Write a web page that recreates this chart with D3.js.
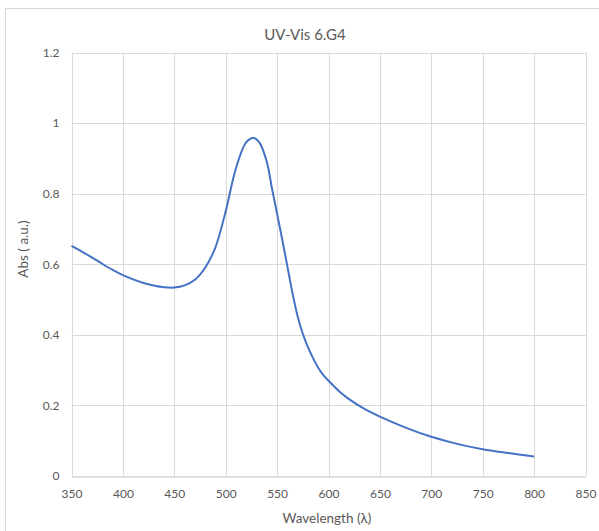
<!DOCTYPE html>
<html>
<head>
<meta charset="utf-8">
<script src="https://cdn.jsdelivr.net/npm/d3@7"></script>
<style>
  body { margin: 0; background: #fff; }
  text { font-family: Lato, "Open Sans", sans-serif; fill: #595959; }
</style>
</head>
<body>
<div id="chart-area"></div>
<script>
// wavelength (nm) and absorbance
const wavelength = [350, 360, 370, 380, 390, 400, 410, 420, 430, 440, 450, 460, 470, 480, 490,
  500, 510, 520, 527, 533, 540, 545, 550, 555, 560, 565, 570, 575, 580, 585, 590, 595, 600,
  610, 620, 635, 650, 675, 700, 725, 750, 775, 800]
const absorbance = [0.652, 0.636, 0.619, 0.601, 0.584, 0.569, 0.557, 0.547, 0.540, 0.535, 0.534,
  0.540, 0.556, 0.590, 0.648, 0.750, 0.872, 0.946, 0.958, 0.944, 0.890, 0.815, 0.743, 0.670,
  0.594, 0.518, 0.452, 0.403, 0.365, 0.334, 0.307, 0.286, 0.270, 0.241, 0.218, 0.190, 0.168,
  0.137, 0.111, 0.091, 0.076, 0.065, 0.055]
const xTicks = [350, 400, 450, 500, 550, 600, 650, 700, 750, 800, 850]
const yTicks = [0, 0.2, 0.4, 0.6, 0.8, 1, 1.2]

const W = 599, H = 531
const PLOT = { LEFT: 71.5, RIGHT: 585.5, TOP: 52.5, BOTTOM: 476 }

const svg = d3.select("#chart-area").append("svg")
  .attr("width", W)
  .attr("height", H)

// chart frame
svg.append("rect")
  .attr("x", 5.5).attr("y", 8.5)
  .attr("width", 700).attr("height", 600)
  .attr("fill", "none")
  .attr("stroke", "#d9d9d9")

const x = d3.scaleLinear().domain([350, 850]).range([PLOT.LEFT, PLOT.RIGHT])
const y = d3.scaleLinear().domain([0, 1.2]).range([PLOT.BOTTOM, PLOT.TOP])

// grid
svg.append("g").selectAll("line").data(yTicks.filter(d => d > 0)).join("line")
  .attr("x1", PLOT.LEFT).attr("x2", PLOT.RIGHT)
  .attr("y1", d => Math.round(y(d)) + 0.5).attr("y2", d => Math.round(y(d)) + 0.5)
  .attr("stroke", "#d9d9d9")

svg.append("g").selectAll("line").data(xTicks).join("line")
  .attr("y1", PLOT.TOP).attr("y2", PLOT.BOTTOM)
  .attr("x1", d => Math.round(x(d)) + 0.5).attr("x2", d => Math.round(x(d)) + 0.5)
  .attr("stroke", "#d9d9d9")

// x axis
const xAxisCall = d3.axisBottom(x).tickValues(xTicks).tickSize(0).tickPadding(13)
const xAxisGroup = svg.append("g")
  .attr("transform", `translate(0, ${Math.round(PLOT.BOTTOM) + 0.5})`)
  .call(xAxisCall)
xAxisGroup.select(".domain").attr("stroke", "#bfbfbf")
xAxisGroup.selectAll("text").attr("font-size", "12px").attr("fill", "#595959")
  .style("font-family", "Lato, 'Open Sans', sans-serif")

// y axis
const yAxisCall = d3.axisLeft(y).tickValues(yTicks).tickSize(0).tickPadding(12)
  .tickFormat(d => d)
const yAxisGroup = svg.append("g")
  .attr("transform", `translate(${PLOT.LEFT}, 0)`)
  .call(yAxisCall)
yAxisGroup.select(".domain").remove()
yAxisGroup.selectAll("text").attr("font-size", "12px").attr("fill", "#595959")
  .style("font-family", "Lato, 'Open Sans', sans-serif")

// line
const line = d3.line()
  .x(d => x(d[0]))
  .y(d => y(d[1]))
  .curve(d3.curveCatmullRom.alpha(0.5))

svg.append("path")
  .datum(wavelength.map((w, i) => [w, absorbance[i]]))
  .attr("d", line)
  .attr("fill", "none")
  .attr("stroke", "#4472c4")
  .attr("stroke-width", 2)

// title
svg.append("text")
  .attr("x", 305).attr("y", 40)
  .attr("text-anchor", "middle")
  .attr("font-size", "15px")
  .text("UV-Vis 6.G4")

// X label
svg.append("text")
  .attr("x", 327).attr("y", 523)
  .attr("text-anchor", "middle")
  .attr("font-size", "13.5px")
  .text("Wavelength (λ)")

// Y label
svg.append("text")
  .attr("x", -249).attr("y", 28)
  .attr("text-anchor", "middle")
  .attr("font-size", "13.5px")
  .attr("transform", "rotate(-90)")
  .text("Abs ( a.u.)")
</script>
</body>
</html>
